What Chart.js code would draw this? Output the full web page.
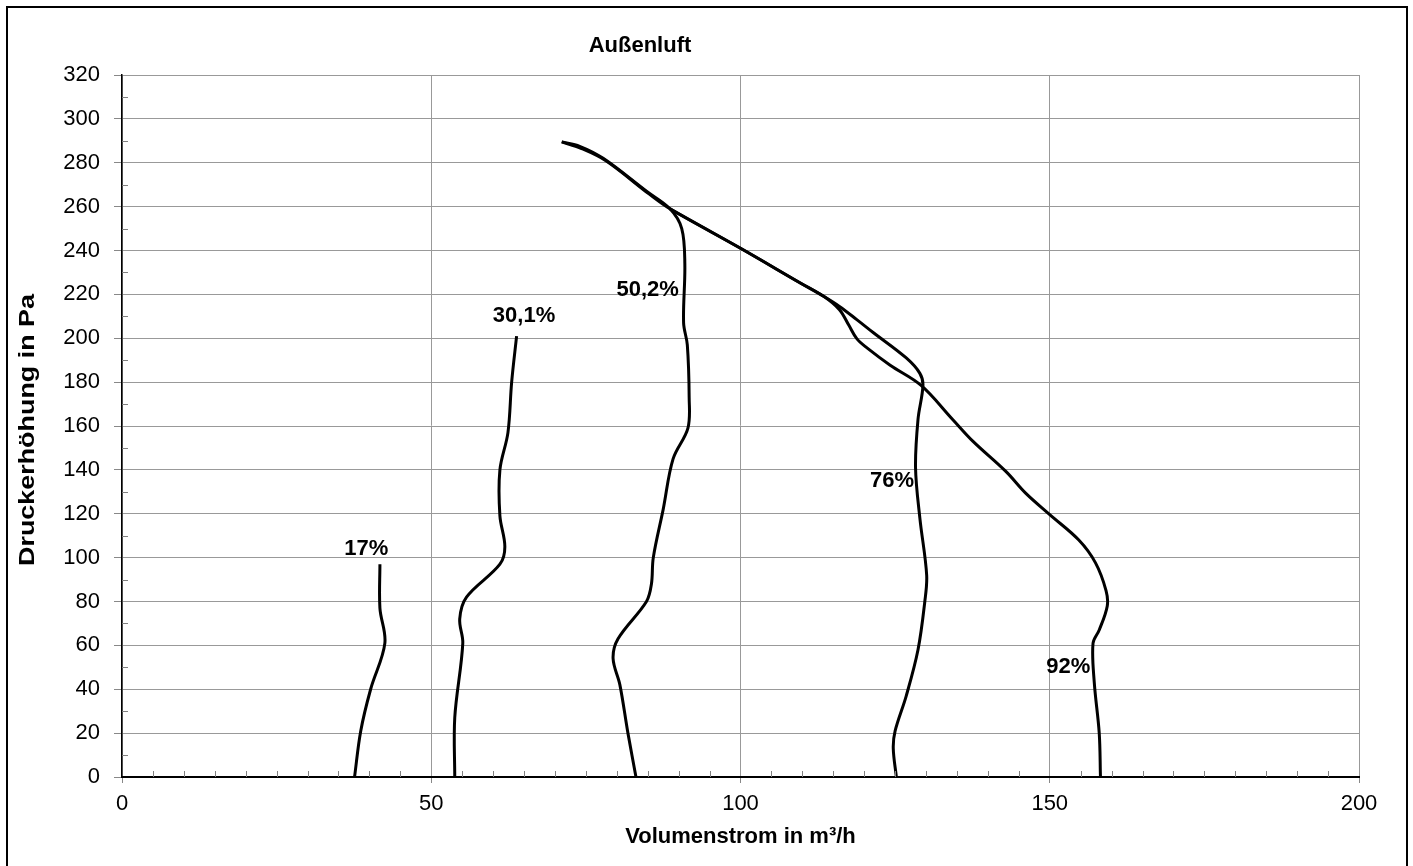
<!DOCTYPE html>
<html>
<head>
<meta charset="utf-8">
<title>Außenluft</title>
<script src="https://cdn.jsdelivr.net/npm/chart.js@4.4.1/dist/chart.umd.min.js"></script>
<style>
  html, body { margin: 0; padding: 0; background: #fff; }
  #wrap { width: 1413px; height: 866px; }
</style>
</head>
<body>
<div id="wrap"><canvas id="fanChart" width="1413" height="866"></canvas></div>
<script>
// curves: flow in m³/h, pressure in Pa (bottom -> top)
const flow17 = [37.6, 38.6, 40.2, 42.5, 41.7, 41.7];
const press17 = [0, 21, 40, 61, 77, 97];

const flow30 = [53.8, 53.8, 55.1, 54.6, 55.7, 61.1, 61.9, 61.1, 61.1, 62.4, 63.0, 63.8];
const press30 = [0, 27, 61, 72, 82, 97, 105, 119, 140, 157, 180, 201];

const flow50 = [83.1, 81.8, 80.5, 79.4, 80.2, 84.8, 85.6, 85.9, 87.5, 89.1, 91.5, 91.7, 91.4, 90.8, 91.0, 90.5, 88.6, 84.8, 77.8, 74.0, 71.1];
const press50 = [0, 20, 42, 54, 63, 80, 88, 100, 122, 145, 159, 173, 197, 207, 234, 250, 259, 267, 282, 287.5, 289.5];

const flow76 = [125.2, 124.7, 125.0, 126.8, 128.7, 129.8, 130.1, 129.0, 128.3, 128.7, 129.5, 129.0, 126.8, 121.5, 118.8, 116.0, 113.5, 109.6, 100, 88.6];
const press76 = [0, 13, 21, 37, 58, 80, 92, 118, 141, 163, 178.5, 184, 191, 202.5, 208.5, 214.5, 219, 225.3, 241, 259];

// upper part runs just beside the 50,2% line (looks doubled in the original)
const flow92 = [158.2, 158.0, 157.2, 157.0, 158.0, 159.3, 159.1, 157.4, 154.7, 150.0, 146.1, 142.9, 137.6, 134.3, 129.2, 124.2, 120.4, 118.8, 117.5, 116.0, 113.5, 109.6, 100, 88.6, 85.2, 78.3, 74.2, 71.1];
const press92 = [0, 20, 43, 61, 67, 78, 85, 97.6, 108, 119.6, 129.4, 139.3, 153, 163, 178.5, 187.7, 195.7, 199.8, 206, 213, 219, 225.3, 241, 259, 265.8, 280.8, 286.6, 289.5];

const curveLabels = ["17%", "30,1%", "50,2%", "76%", "92%"];
// where the % labels sit (data coords)
const labelFlow = [39.5, 65, 85, 124.5, 153];
const labelPress = [104, 210, 222, 135, 50];

const xTicks = [0, 50, 100, 150, 200];
const yTicks = [0, 20, 40, 60, 80, 100, 120, 140, 160, 180, 200, 220, 240, 260, 280, 300, 320];

const FONT = "'Liberation Sans', Arial, sans-serif";

function toPoints(xs, ys) {
  return xs.map((x, i) => ({ x: x, y: ys[i] }));
}

function curve(label, xs, ys) {
  return {
    label: label,
    data: toPoints(xs, ys),
    showLine: true,
    borderColor: "#000",
    borderWidth: 3,
    pointRadius: 0,
    tension: 0.35,
    fill: false
  };
}

// title, axis titles, % labels, frame and the small minor ticks
const decorPlugin = {
  id: "decor",
  afterDraw(chart) {
    const ctx = chart.ctx;
    const xs = chart.scales.x;
    const ys = chart.scales.y;
    const area = chart.chartArea;

    ctx.save();

    // minor ticks inside the plot
    ctx.strokeStyle = "#808080";
    ctx.lineWidth = 1;
    ctx.beginPath();
    for (let v = 5; v < 200; v += 5) {
      if (v % 50 === 0) continue;
      const px = Math.round(xs.getPixelForValue(v)) + 0.5;
      ctx.moveTo(px, area.bottom);
      ctx.lineTo(px, area.bottom - 6);
    }
    for (let v = 10; v < 320; v += 20) {
      const py = Math.round(ys.getPixelForValue(v)) + 0.5;
      ctx.moveTo(area.left, py);
      ctx.lineTo(area.left + 6, py);
    }
    ctx.stroke();

    ctx.fillStyle = "#000";
    ctx.textAlign = "center";
    ctx.textBaseline = "middle";

    ctx.font = "bold 22px " + FONT;
    ctx.fillText("Außenluft", 640, 46);

    ctx.fillText("Volumenstrom in m³/h", (area.left + area.right) / 2, 837);

    // y title is a bit stretched in the original
    ctx.save();
    ctx.translate(28, 430);
    ctx.rotate(-Math.PI / 2);
    const yTitle = "Druckerhöhung in Pa";
    const w = ctx.measureText(yTitle).width;
    ctx.scale(272 / w, 1);
    ctx.fillText(yTitle, 0, 0);
    ctx.restore();

    ctx.font = "bold 22px " + FONT;
    curveLabels.forEach((t, i) => {
      ctx.fillText(t, xs.getPixelForValue(labelFlow[i]), ys.getPixelForValue(labelPress[i]));
    });

    // outer frame (bottom edge is off the picture)
    ctx.strokeStyle = "#000";
    ctx.lineWidth = 2;
    ctx.strokeRect(7, 7, 1400, 880);

    ctx.restore();
  }
};

const chart = new Chart(document.getElementById("fanChart"), {
  type: "scatter",
  data: {
    datasets: [
      curve(curveLabels[0], flow17, press17),
      curve(curveLabels[1], flow30, press30),
      curve(curveLabels[2], flow50, press50),
      curve(curveLabels[3], flow76, press76),
      curve(curveLabels[4], flow92, press92)
    ]
  },
  options: {
    responsive: false,
    animation: false,
    layout: { padding: { top: 75, right: 54, left: 0, bottom: 0 } },
    plugins: {
      legend: { display: false },
      tooltip: { enabled: false }
    },
    scales: {
      x: {
        type: "linear",
        min: 0,
        max: 200,
        afterBuildTicks: (s) => { s.ticks = xTicks.map(v => ({ value: v })); },
        afterFit: (s) => { s.height = 89; },
        ticks: {
          color: "#000",
          font: { family: FONT, size: 22 },
          padding: 8,
          maxRotation: 0
        },
        grid: {
          color: "#999",
          borderDash: [1, 1],
          lineWidth: 1,
          tickLength: 6,
          tickColor: "#888",
          tickBorderDash: []
        },
        border: { display: true, color: "#000", width: 2 }
      },
      y: {
        type: "linear",
        min: 0,
        max: 320,
        afterBuildTicks: (s) => { s.ticks = yTicks.map(v => ({ value: v })); },
        afterFit: (s) => { s.width = 122; },
        ticks: {
          color: "#000",
          font: { family: FONT, size: 22 },
          padding: 14
        },
        grid: {
          color: "#999",
          borderDash: [1, 1],
          lineWidth: 1,
          tickLength: 8,
          tickColor: "#888",
          tickBorderDash: []
        },
        border: { display: true, color: "#000", width: 1.5 }
      }
    }
  },
  plugins: [decorPlugin]
});
</script>
</body>
</html>
